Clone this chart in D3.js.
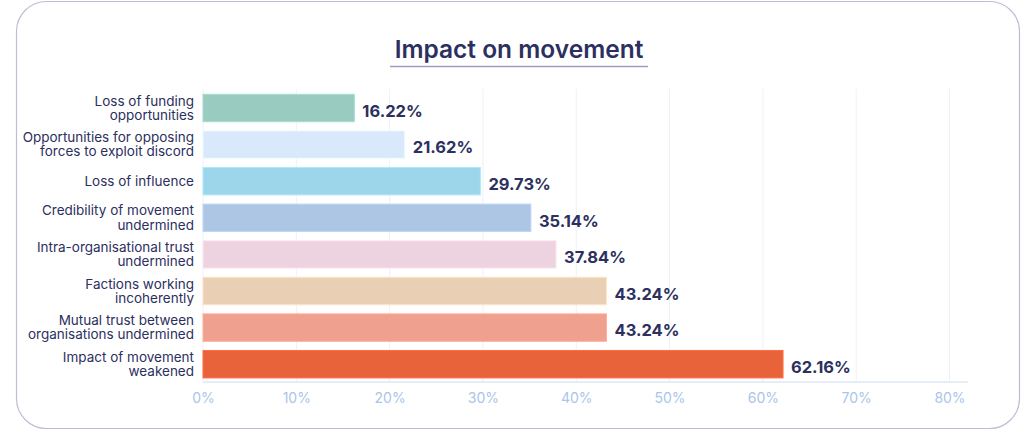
<!DOCTYPE html>
<html><head><meta charset="utf-8">
<script src="https://cdn.jsdelivr.net/npm/d3@7"></script>
<style>
html,body{margin:0;padding:0;background:#fff;}
svg{display:block;}
text{font-family:"Inter","Noto Sans",sans-serif;}
</style></head>
<body>
<svg id="chart" width="1024" height="431"></svg>
<script>
const title = "Impact on movement";
const categories = [
  ["Loss of funding","opportunities"],
  ["Opportunities for opposing","forces to exploit discord"],
  ["Loss of influence"],
  ["Credibility of movement","undermined"],
  ["Intra-organisational trust","undermined"],
  ["Factions working","incoherently"],
  ["Mutual trust between","organisations undermined"],
  ["Impact of movement","weakened"]
];
const values = [16.22, 21.62, 29.73, 35.14, 37.84, 43.24, 43.24, 62.16];
const colors = ["#99cbc1","#d9e8fa","#9dd6eb","#adc6e4","#edd3df","#e9d0b4","#efa08e","#e9633a"];
const ticks = [0,10,20,30,40,50,60,70,80];

const svg = d3.select("#chart");
const ink = "#2c3060";

// frame
svg.append("rect").attr("x",16.5).attr("y",1.5).attr("width",1003).attr("height",427)
  .attr("rx",30).attr("fill","#fff").attr("stroke","#bdbdd6").attr("stroke-width",1.2);

// title
svg.append("text").attr("x",519).attr("y",58).attr("text-anchor","middle")
  .attr("font-size",24.5).attr("font-weight",600).attr("fill",ink).text(title);
svg.append("line").attr("x1",390).attr("x2",648).attr("y1",66.5).attr("y2",66.5)
  .attr("stroke","#9c9ec2").attr("stroke-width",1.5);

const x = d3.scaleLinear().domain([0,80]).range([203,949.5]);
const y = d3.scaleBand().domain(d3.range(values.length)).range([89.7,382.5])
  .paddingInner(0.25).paddingOuter(0.125);

// grid
svg.append("g").selectAll("line").data(ticks).join("line")
  .attr("x1",d=>x(d)).attr("x2",d=>x(d)).attr("y1",89).attr("y2",382)
  .attr("stroke","#edf1f8").attr("stroke-width",1);

// axis baseline
svg.append("line").attr("x1",203).attr("x2",968).attr("y1",382).attr("y2",382)
  .attr("stroke","#e7edf6").attr("stroke-width",2);

// axis labels
const ax = svg.append("g").attr("transform","translate(0,398)")
  .call(d3.axisBottom(x).tickValues(ticks).tickFormat(d=>d+"%").tickSize(0).tickPadding(0));
ax.select(".domain").remove();
ax.selectAll("text").attr("font-size",14).attr("fill","#a9c5ea")
  .attr("font-family","Inter,'Noto Sans',sans-serif").attr("font-weight",400).attr("dy","0.35em");

// bars
svg.append("g").selectAll("rect").data(values).join("rect")
  .attr("x",x(0)).attr("y",(d,i)=>y(i)).attr("width",d=>x(d)-x(0)).attr("height",y.bandwidth())
  .attr("fill",(d,i)=>colors[i])
  .attr("stroke",(d,i)=>d3.color(colors[i]).brighter(0.25)).attr("stroke-width",1);

// value labels
svg.append("g").selectAll("text").data(values).join("text")
  .attr("x",d=>x(d)+8).attr("y",(d,i)=>y(i)+y.bandwidth()/2+3)
  .attr("dy","0.35em").attr("font-size",16.5).attr("font-weight",700).attr("fill",ink)
  .text(d=>d.toFixed(2)+"%");

// category labels
const lh = 14.3;
const cg = svg.append("g");
categories.forEach((lines,i)=>{
  const cy = y(i)+y.bandwidth()/2;
  const txt = cg.append("text").attr("x",194).attr("text-anchor","end")
    .attr("font-size",13.5).attr("fill",ink);
  lines.forEach((l,j)=>{
    txt.append("tspan").attr("x",194)
      .attr("y",cy + (j-(lines.length-1)/2)*lh).attr("dy","0.35em").text(l);
  });
});
</script>
</body></html>
